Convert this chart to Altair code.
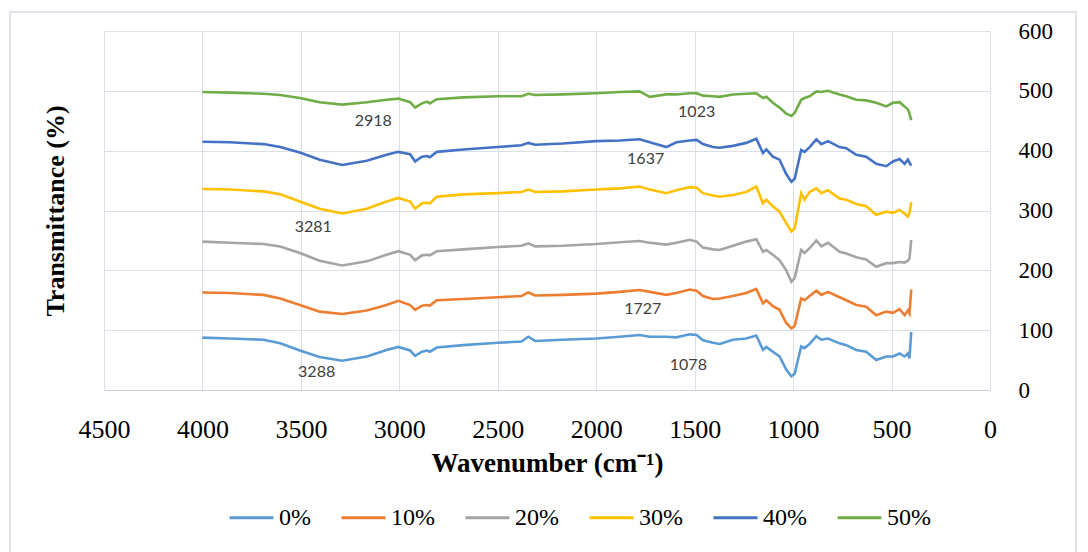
import altair as alt
import pandas as pd

# FTIR spectra of films with increasing additive content (curves offset vertically)
wavenumber = [4000, 3860, 3690, 3605, 3505, 3405, 3290, 3165, 3065, 3005,
              2945, 2920, 2885, 2860, 2845, 2810, 2675, 2500, 2380, 2345,
              2310, 2170, 2000,
              1880, 1780, 1728, 1644, 1593, 1525, 1490, 1458, 1407, 1373,
              1306, 1238, 1187, 1153, 1136, 1103, 1069, 1035, 1009, 992,
              959, 942, 916, 882, 857, 823, 764, 730, 679, 629,
              578, 527, 493, 459, 434, 417, 409, 400]

t_0 = [87.5, 86, 84, 78, 66, 55, 49, 56, 67, 72,
       66, 57, 64, 66, 64, 71, 75, 79, 81, 89,
       82, 84, 86,
       89, 92, 89, 89, 88, 93, 92, 83, 79, 77,
       84, 86, 91, 67, 72, 64, 56, 34, 23, 27,
       73, 70, 77, 90, 84, 86, 78, 75, 67, 64,
       50, 56, 56, 61, 56, 61, 53, 97]

t_10 = [163, 162, 159, 153, 142, 131, 127, 133, 142, 149,
        142, 134, 141, 142, 141, 150, 152, 155, 157, 163,
        158, 159, 161,
        164, 167, 164, 159, 162, 168, 166, 157, 152, 153,
        157, 162, 169, 145, 150, 140, 134, 112, 103, 107,
        153, 150, 157, 166, 159, 164, 155, 150, 142, 139,
        125, 131, 129, 135, 125, 133, 128, 168]

t_20 = [248, 246, 244, 240, 229, 216, 208, 215, 226, 232,
        226, 217, 225, 226, 225, 232, 235, 239, 241, 245,
        240, 241, 244,
        247, 249, 246, 243, 246, 251, 248, 238, 235, 234,
        241, 248, 252, 231, 234, 226, 217, 200, 181, 187,
        234, 229, 237, 250, 240, 246, 231, 228, 222, 218,
        206, 212, 212, 214, 213, 216, 220, 251]

t_30 = [336, 335, 332, 327, 315, 303, 295, 303, 315, 321,
        315, 303, 312, 313, 312, 323, 327, 329, 331, 335,
        331, 332, 335,
        337, 340, 335, 329, 334, 339, 338, 329, 325, 323,
        326, 331, 340, 312, 318, 307, 298, 279, 265, 270,
        329, 318, 331, 337, 329, 334, 320, 318, 311, 307,
        293, 298, 296, 301, 295, 290, 296, 314]

t_40 = [415, 414, 411, 406, 397, 385, 376, 383, 393, 398,
        394, 382, 390, 391, 389, 398, 402, 406, 409, 413,
        410, 412, 416,
        417, 419, 414, 406, 414, 417, 418, 411, 406, 405,
        408, 413, 420, 396, 402, 390, 385, 361, 348, 353,
        401, 398, 406, 419, 411, 416, 406, 404, 393, 390,
        378, 374, 382, 386, 378, 385, 380, 375]

t_50 = [498, 497, 495, 493, 488, 481, 477, 481, 485, 487,
        481, 472, 479, 482, 479, 486, 489, 491, 491, 495,
        493, 494, 496,
        498, 499, 490, 494, 494, 496, 496, 492, 491, 490,
        494, 495, 496, 488, 490, 480, 472, 462, 458, 463,
        485, 488, 491, 499, 498, 500, 494, 491, 485, 484,
        480, 474, 480, 481, 474, 469, 462, 451]

series_names = ["0%", "10%", "20%", "30%", "40%", "50%"]
series_colors = ["#5B9BD5", "#ED7D31", "#A5A5A5", "#FFC000", "#4472C4", "#70AD47"]
series_values = [t_0, t_10, t_20, t_30, t_40, t_50]

# peak labels placed beside the curves
label_text = ["3288", "1078", "1727", "3281", "1637", "2918", "1023"]
label_x = [3420, 1532, 1764, 3437, 1749, 3132, 1490]
label_y = [30, 42, 135, 273, 386, 449, 465]

x_ticks = [4500, 4000, 3500, 3000, 2500, 2000, 1500, 1000, 500, 0]
y_ticks = [0, 100, 200, 300, 400, 500, 600]

rows = []
for name, vals in zip(series_names, series_values):
    for w, v in zip(wavenumber, vals):
        rows.append({"wavenumber": w, "transmittance": v, "series": name})
spectra = pd.DataFrame(rows)

labels = pd.DataFrame({"text": label_text, "wavenumber": label_x,
                       "transmittance": label_y})

GRID = "#dadfe8"
SERIF = "Liberation Serif"

x_scale = alt.Scale(domain=[4500, 0], nice=False)
y_scale = alt.Scale(domain=[0, 600], nice=False)

# thin frame around the whole figure
frame = alt.Chart(pd.DataFrame({"k": [0]})).mark_rect(
    fillOpacity=0, stroke="#d6dae2", strokeWidth=1.5
).encode(
    x=alt.value(-94), x2=alt.value(972), y=alt.value(-19), y2=alt.value(540)
)

lines = alt.Chart(spectra).mark_line(strokeWidth=2.6, interpolate="linear").encode(
    x=alt.X("wavenumber:Q", scale=x_scale,
            axis=alt.Axis(values=x_ticks, format="d", title="Wavenumber (cm⁻¹)",
                          titleFont=SERIF, titleFontSize=27, titleFontWeight="bold",
                          titleColor="#000000", titlePadding=8,
                          labelFont=SERIF, labelFontSize=26, labelColor="#000000",
                          labelPadding=26, ticks=False, tickSize=0,
                          domainColor="#c9cfdb", gridColor=GRID, labelFlush=False)),
    y=alt.Y("transmittance:Q", scale=y_scale,
            axis=alt.Axis(orient="right", values=y_ticks, title=None,
                          labelFont=SERIF, labelFontSize=23, labelColor="#000000",
                          labelPadding=28, ticks=False, tickSize=0, domain=False,
                          gridColor=GRID, labelFlush=False)),
    color=alt.Color("series:N",
                    scale=alt.Scale(domain=series_names, range=series_colors),
                    sort=series_names,
                    legend=alt.Legend(orient="none", direction="horizontal",
                                      legendX=124, legendY=463, title=None,
                                      symbolType="stroke", symbolSize=1936,
                                      symbolStrokeWidth=3, labelFont=SERIF,
                                      labelFontSize=24, labelColor="#000000",
                                      labelOffset=4, columnPadding=24,
                                      columns=6)),
    order=alt.Order("wavenumber:Q", sort="descending"),
)

peak_labels = alt.Chart(labels).mark_text(
    font="Lato", fontSize=16, color="#404040", align="center", baseline="middle"
).encode(
    x=alt.X("wavenumber:Q", scale=x_scale),
    y=alt.Y("transmittance:Q", scale=y_scale,
            axis=alt.Axis(orient="left", labels=False, ticks=False, domain=False,
                          grid=False, title="Transmittance (%)", titleFont=SERIF,
                          titleFontSize=26, titleFontWeight="bold",
                          titleColor="#000000", titlePadding=36)),
    text="text:N",
)

chart = alt.layer(frame, lines, peak_labels).resolve_axis(y="independent").properties(
    width=886, height=359,
    autosize=alt.AutoSizeParams(type="none"),
    padding={"left": 104, "top": 31, "right": 98, "bottom": 162},
    background="#ffffff",
).configure_view(stroke=None)

chart.save("out.html", embed_options={"renderer": "svg", "actions": False})
